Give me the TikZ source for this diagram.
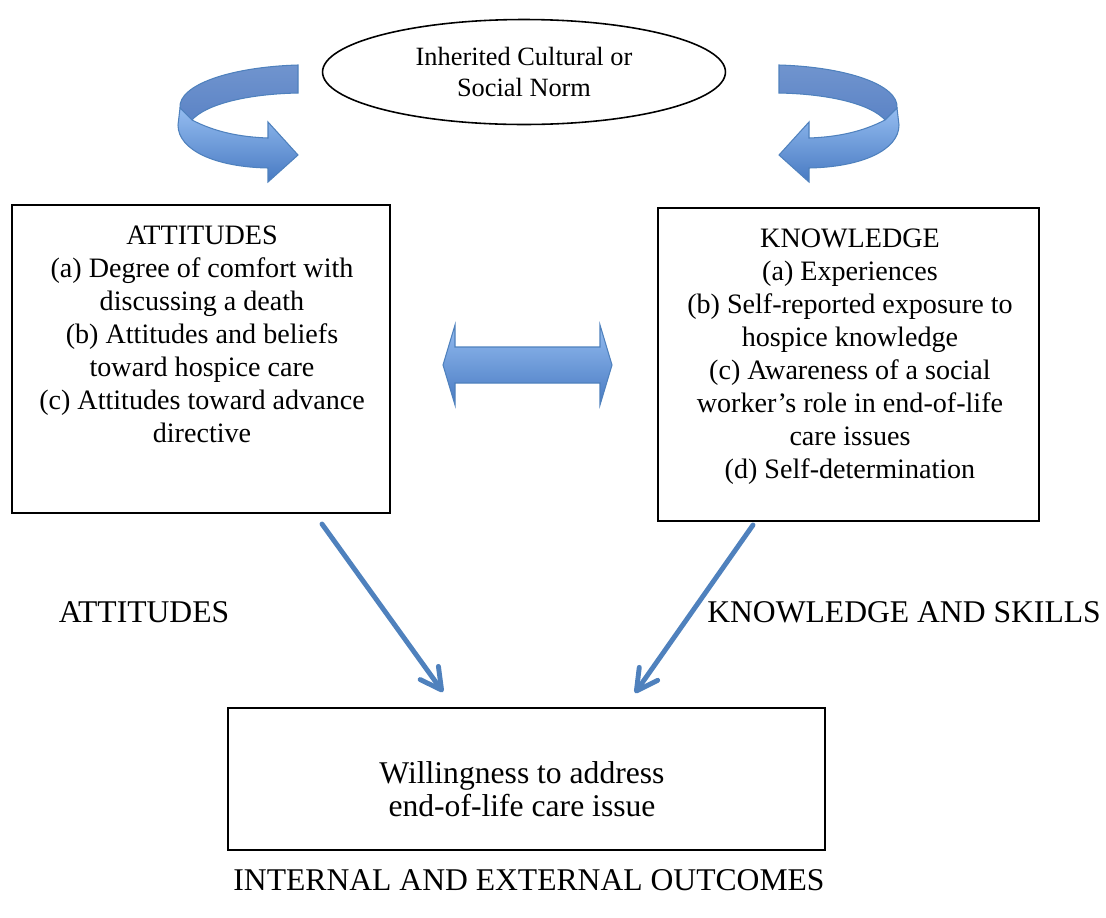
\documentclass[tikz,border=0pt]{standalone}
\usepackage{fontspec}
\setmainfont{Liberation Serif}
\usepackage{xcolor}
\usepackage{tikz}
\usetikzlibrary{positioning,arrows.meta,shapes.geometric}

\definecolor{ribbon}{RGB}{79,129,189}
\definecolor{ribbonlight}{RGB}{148,188,240}
\definecolor{ribbondark}{RGB}{72,122,194}
\definecolor{ribbonbacktop}{RGB}{112,148,206}
\definecolor{ribbonbackbot}{RGB}{92,132,198}

\begin{document}
\begin{tikzpicture}[
  x=0.02cm, y=-0.02cm,
  boxframe/.style={draw, rectangle, line width=0.9pt, inner sep=0pt},
  bodytext/.style={align=center, font=\fontsize{16}{18.8}\selectfont},
  flowlabel/.style={font=\fontsize{18}{21}\selectfont},
  flowlink/.style={draw=ribbon, line width=2.8pt, line cap=round,
    -{Straight Barb[length=0.42cm,width=0.45cm,round]}},
  ribbonfront/.style={top color=ribbonlight, bottom color=ribbondark, draw=ribbon, line width=0.6pt},
  ribbonback/.style={top color=ribbonbacktop, bottom color=ribbonbackbot, draw=ribbon, line width=0.6pt},
  curl/.pic={
    \path[ribbonback] (298,65) .. controls (230,67) and (178,85) .. (180,108)
      -- (192,120) .. controls (205,105) and (245,94) .. (298,93) -- cycle;
    \path[ribbonfront] (180,108) -- (192,120) .. controls (215,132) and (240,137) .. (268,138)
      -- (268,122) -- (298,155) -- (268,182) -- (268,168)
      .. controls (215,167) and (178,150) .. (178,125) -- cycle;
  }
]
\useasboundingbox (0,0) rectangle (1106,917);

% Cultural norm on top
\node[draw, ellipse, line width=0.9pt, minimum width=8.06cm, minimum height=2.1cm,
  align=center, font=\fontsize{15}{17.6}\selectfont] (norm) at (524,72)
  {Inherited Cultural or\\Social Norm};
\pic at (0,0) {curl};
\pic[xscale=-1] at (1077,0) {curl};

% Attitudes box
\node[boxframe, minimum width=7.56cm, minimum height=6.16cm] (attbox) at (201,359) {};
\node[bodytext] (atttext) at (202,334) {ATTITUDES\\(a) Degree of comfort with\\discussing a death\\(b) Attitudes and beliefs\\toward hospice care\\(c) Attitudes toward advance\\directive};

% Knowledge box
\node[boxframe, minimum width=7.62cm, minimum height=6.26cm] (knowbox) at (848.5,364.5) {};
\node[bodytext] (knowtext) at (850,357) {KNOWLEDGE\\(a) Experiences\\(b) Self-reported exposure to\\hospice knowledge\\(c) Awareness of a social\\worker’s role in end-of-life\\care issues\\(d) Self-determination};

% Two-way arrow between the boxes
\path[ribbonfront] (443,365) -- (455,325) -- (455,347) -- (600,347) -- (600,325)
  -- (612,365) -- (600,405) -- (600,383) -- (455,383) -- (455,405) -- cycle;

% Outcome box
\node[boxframe, minimum width=11.94cm, minimum height=2.84cm] (willbox) at (526.5,779) {};
\node[bodytext, font=\fontsize{18}{18.8}\selectfont] (willtext) at (522,789) {Willingness to address\\end-of-life care issue};

% Arrows down
\coordinate (attfoot) at (322,524);
\coordinate (willleft) at (443,692);
\coordinate (knowfoot) at (753,525);
\coordinate (willright) at (635,693);
\draw[flowlink] (attfoot) -- (willleft);
\draw[flowlink] (knowfoot) -- (willright);

% Labels
\node[flowlabel] (attlabel) at (144,612) {ATTITUDES};
\node[flowlabel] (knowlabel) at (904,612) {KNOWLEDGE AND SKILLS};
\node[flowlabel] (outlabel) at (529,880) {INTERNAL AND EXTERNAL OUTCOMES};

\end{tikzpicture}
\end{document}
